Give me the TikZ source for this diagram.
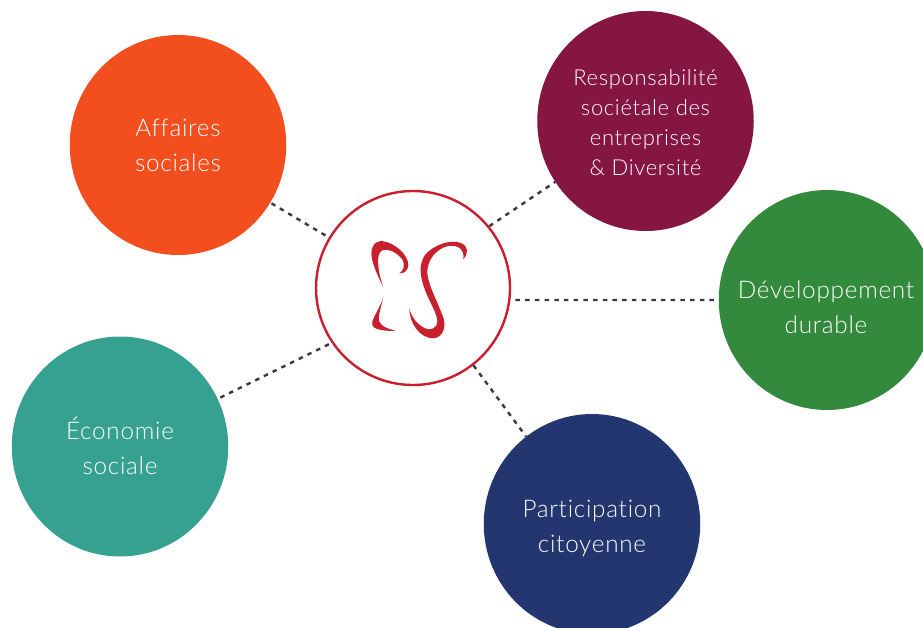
\documentclass[tikz,border=0pt]{standalone}
\usepackage{fontspec}
\usetikzlibrary{shapes.geometric}
\setmainfont{Lato}[UprightFont=* Light,LetterSpace=3,RawFeature={-liga}]
\definecolor{cOrange}{HTML}{F24E1E}
\definecolor{cMaroon}{HTML}{851541}
\definecolor{cGreen}{HTML}{348A3C}
\definecolor{cTeal}{HTML}{36A190}
\definecolor{cNavy}{HTML}{24366F}
\definecolor{cRed}{HTML}{C8202F}
\definecolor{cDash}{HTML}{3A3A3A}
\tikzset{
  topic/.style={ellipse,draw=none,minimum width=216.5pt,minimum height=220pt,inner sep=0pt},
  toptext/.style={align=center,text=white,inner sep=0pt,font=\fontsize{24.3}{35}\selectfont},
  smalltext/.style={toptext,font=\fontsize{22}{30}\selectfont},
  hub/.style={circle,draw=cRed,line width=2.4pt,fill=white,minimum size=194pt,inner sep=0pt},
  link/.style={draw=cDash,line width=2.4pt,dash pattern=on 4.5pt off 5.2pt},
  logopart/.style={fill=cRed,draw=none}
}
\begin{document}
\begin{tikzpicture}[x=1pt,y=-1pt]
\useasboundingbox (0,0) rectangle (923,627);
\node[hub] (hub) at (413,288) {};
\node[topic,fill=cOrange] (affaires) at (178,145) {};
\node[topic,fill=cMaroon] (rse) at (645.5,121) {};
\node[topic,fill=cGreen] (dev) at (827,300) {};
\node[topic,fill=cTeal] (eco) at (120,446.5) {};
\node[topic,fill=cNavy] (part) at (592,524) {};
\node[toptext] (affairestext) at (178,145.5) {Affaires\\sociales};
\node[smalltext] (rsetext) at (645.5,122.5) {Responsabilité\\sociétale des\\entreprises\\\&~Diversité};
\node[toptext] (devtext) at (826,307) {Développement\\durable};
\node[toptext] (ecotext) at (120,445.5) {Économie\\sociale};
\node[toptext] (parttext) at (592,528.5) {Participation\\citoyenne};
\draw[link,shorten <=4pt,shorten >=-2pt] (hub.149) -- (affaires.-32);
\draw[link] (hub.39) -- (rse.214);
\draw[link,shorten <=5pt] (hub.-7) -- (dev.180);
\draw[link,shorten <=3pt] (hub.214) -- (eco.26);
\draw[link] (hub.-52) -- (part.127);
\begin{scope}[shift={(340,210)},x=0.3333pt,y=-0.3333pt]
\fill[logopart] (130,232) .. controls (110,190) and (90,150) .. (95,120)
  .. controls (98,103) and (110,93) .. (125,93)
  .. controls (165,97) and (205,135) .. (205,165)
  .. controls (205,182) and (190,192) .. (178,190)
  .. controls (192,182) and (195,165) .. (188,150)
  .. controls (175,130) and (145,113) .. (125,122)
  .. controls (108,132) and (112,180) .. (130,232) -- cycle;
\fill[logopart] (130,258) .. controls (125,285) and (105,310) .. (97,335)
  .. controls (93,350) and (105,358) .. (125,360)
  .. controls (140,363) and (155,363) .. (168,362)
  .. controls (145,358) and (125,350) .. (118,335)
  .. controls (112,320) and (125,290) .. (130,258) -- cycle;
\fill[logopart] (370,148) .. controls (385,130) and (388,108) .. (360,98)
  .. controls (330,88) and (280,105) .. (255,135)
  .. controls (235,165) and (240,200) .. (255,240)
  .. controls (270,280) and (292,310) .. (292,335)
  .. controls (290,357) and (270,362) .. (255,355)
  .. controls (235,345) and (215,325) .. (208,295)
  .. controls (208,340) and (240,385) .. (280,385)
  .. controls (312,382) and (322,345) .. (305,310)
  .. controls (290,270) and (265,225) .. (262,190)
  .. controls (260,150) and (290,115) .. (325,108)
  .. controls (355,103) and (375,120) .. (370,148) -- cycle;
\end{scope}
\end{tikzpicture}
\end{document}
